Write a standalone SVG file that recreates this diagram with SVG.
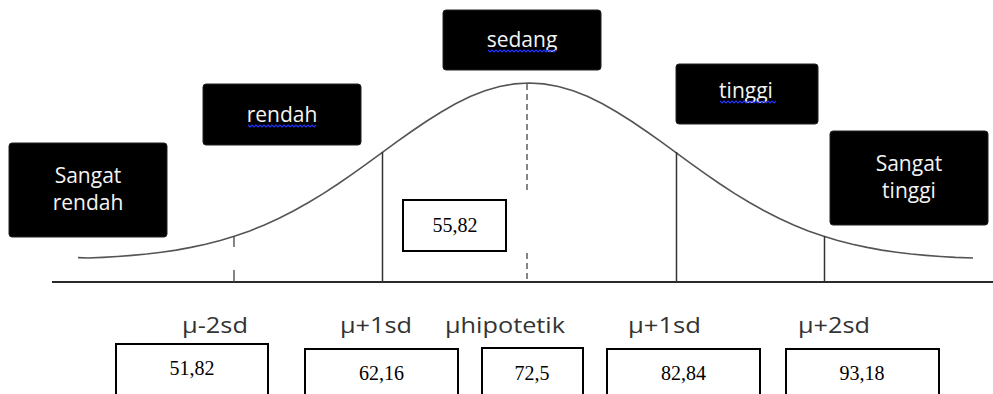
<svg xmlns="http://www.w3.org/2000/svg" width="993" height="394" viewBox="0 0 993 394">
  <style>
    .cat rect { fill: #000; stroke: #222; stroke-width: 1; }
    .cat text { fill: #f4f4f4; font-family: "Open Sans", "Liberation Sans", sans-serif; font-size: 21px; text-anchor: middle; }
    .squiggle { stroke: #2233ff; stroke-width: 1.2; fill: none; }
    .val rect { fill: #fff; stroke: #000; stroke-width: 2; }
    .val text { fill: #000; font-family: "Liberation Serif", "Times New Roman", serif; font-size: 20px; text-anchor: middle; }
    .lbl { fill: #333; font-family: "Open Sans", "Liberation Sans", sans-serif; font-size: 22px; }
    .axis { stroke: #2a2a2a; stroke-width: 2; fill: none; }
    .curve { stroke: #555; stroke-width: 1.6; fill: none; }
    .tick { stroke: #333; stroke-width: 1.5; fill: none; }
    .dash { stroke: #444; stroke-width: 1.3; fill: none; }
  </style>

  <rect width="993" height="394" fill="#fff"/>

  <!-- axis, bell curve and sd markers -->
  <g id="connectors">
    <line class="axis" x1="52" y1="282" x2="993" y2="282"/>
    <path class="curve" d="M78,257.6 L88,258 L102.7,257.4 L117.4,256.5 L132.1,255.4 L146.8,254 L161.5,252.2 L176.2,250.1 L190.9,247.4 L205.6,244.3 L220.3,240.5 L235,236 L249.7,230.9 L264.4,225 L279.1,218.3 L293.8,210.8 L308.5,202.5 L323.2,193.6 L337.9,184 L352.6,173.8 L367.3,163.3 L382,152.6 L396.7,141.9 L411.4,131.5 L426.1,121.5 L440.8,112.2 L455.5,103.8 L470.2,96.6 L484.9,90.8 L499.6,86.5 L514.3,83.9 L529,83 L543.7,83.9 L558.4,86.5 L573.1,90.8 L587.8,96.6 L602.5,103.8 L617.2,112.2 L631.9,121.5 L646.6,131.5 L661.3,141.9 L676,152.6 L690.7,163.3 L705.4,173.8 L720.1,184 L734.8,193.6 L749.5,202.5 L764.2,210.8 L778.9,218.3 L793.6,225 L808.3,230.9 L823,236 L837.7,240.5 L852.4,244.3 L867.1,247.4 L881.8,250.1 L896.5,252.2 L911.2,254 L925.9,255.4 L940.6,256.5 L955.3,257.4 L973,258"/>
    <!-- mu - 2sd (dashed) -->
    <line class="dash" x1="234" y1="236" x2="234" y2="247"/>
    <line class="dash" x1="234" y1="270" x2="234" y2="282"/>
    <!-- mu - 1sd -->
    <line class="tick" x1="382.5" y1="152" x2="382.5" y2="282"/>
    <!-- mean (dashed) -->
    <line class="dash" x1="527" y1="84" x2="527" y2="191" stroke-dasharray="6 4"/>
    <line class="dash" x1="527" y1="253" x2="527" y2="279" stroke-dasharray="6 4"/>
    <!-- mu + 1sd -->
    <line class="tick" x1="676.5" y1="152" x2="676.5" y2="282"/>
    <!-- mu + 2sd -->
    <line class="tick" x1="824.5" y1="236" x2="824.5" y2="282"/>
  </g>

  <!-- category boxes -->
  <g id="sangat-rendah" class="cat">
    <rect x="9" y="143" width="158" height="94" rx="3"/>
    <text x="88" y="183">Sangat</text>
    <text x="88" y="210">rendah</text>
  </g>
  <g id="rendah" class="cat">
    <rect x="203" y="84" width="158" height="61" rx="3"/>
    <text x="282" y="122">rendah</text>
    <path class="squiggle" d="M248,125 l2,2 l2,-2 l2,2 l2,-2 l2,2 l2,-2 l2,2 l2,-2 l2,2 l2,-2 l2,2 l2,-2 l2,2 l2,-2 l2,2 l2,-2 l2,2 l2,-2 l2,2 l2,-2 l2,2 l2,-2 l2,2 l2,-2 l2,2 l2,-2 l2,2 l2,-2 l2,2 l2,-2 l2,2 l2,-2 l2,2 l2,-2"/>
  </g>
  <g id="sedang" class="cat">
    <rect x="443" y="10" width="158" height="60" rx="3"/>
    <text x="522" y="47">sedang</text>
    <path class="squiggle" d="M488,50 l2,2 l2,-2 l2,2 l2,-2 l2,2 l2,-2 l2,2 l2,-2 l2,2 l2,-2 l2,2 l2,-2 l2,2 l2,-2 l2,2 l2,-2 l2,2 l2,-2 l2,2 l2,-2 l2,2 l2,-2 l2,2 l2,-2 l2,2 l2,-2 l2,2 l2,-2 l2,2 l2,-2 l2,2 l2,-2 l2,2 l2,-2"/>
  </g>
  <g id="tinggi" class="cat">
    <rect x="676" y="64" width="142" height="60" rx="3"/>
    <text x="746" y="98">tinggi</text>
    <path class="squiggle" d="M720,101 l2,2 l2,-2 l2,2 l2,-2 l2,2 l2,-2 l2,2 l2,-2 l2,2 l2,-2 l2,2 l2,-2 l2,2 l2,-2 l2,2 l2,-2 l2,2 l2,-2 l2,2 l2,-2 l2,2 l2,-2 l2,2 l2,-2 l2,2 l2,-2 l2,2 l2,-2"/>
  </g>
  <g id="sangat-tinggi" class="cat">
    <rect x="830" y="131" width="158" height="94" rx="3"/>
    <text x="909" y="171">Sangat</text>
    <text x="909" y="198">tinggi</text>
  </g>

  <!-- observed mean -->
  <g id="mean-observed" class="val">
    <rect x="403" y="200" width="103" height="51"/>
    <text x="455" y="232" font-size="22">55,82</text>
  </g>

  <!-- axis labels -->
  <g id="axis-labels">
    <text class="lbl" x="182" y="333" textLength="66" lengthAdjust="spacingAndGlyphs">μ-2sd</text>
    <text class="lbl" x="340" y="333" textLength="72" lengthAdjust="spacingAndGlyphs">μ+1sd</text>
    <text class="lbl" x="445" y="333" textLength="120" lengthAdjust="spacingAndGlyphs">μhipotetik</text>
    <text class="lbl" x="628" y="333" textLength="73" lengthAdjust="spacingAndGlyphs">μ+1sd</text>
    <text class="lbl" x="798" y="333" textLength="72" lengthAdjust="spacingAndGlyphs">μ+2sd</text>
  </g>

  <!-- threshold values -->
  <g id="v-51-82" class="val">
    <rect x="116" y="344" width="152" height="60"/>
    <text x="192" y="375">51,82</text>
  </g>
  <g id="v-62-16" class="val">
    <rect x="305" y="349" width="153" height="60"/>
    <text x="381.5" y="380">62,16</text>
  </g>
  <g id="v-72-5" class="val">
    <rect x="482" y="348" width="101" height="60"/>
    <text x="532" y="380">72,5</text>
  </g>
  <g id="v-82-84" class="val">
    <rect x="607" y="349" width="153" height="60"/>
    <text x="683.5" y="380">82,84</text>
  </g>
  <g id="v-93-18" class="val">
    <rect x="786" y="349" width="153" height="60"/>
    <text x="862" y="380">93,18</text>
  </g>
</svg>
